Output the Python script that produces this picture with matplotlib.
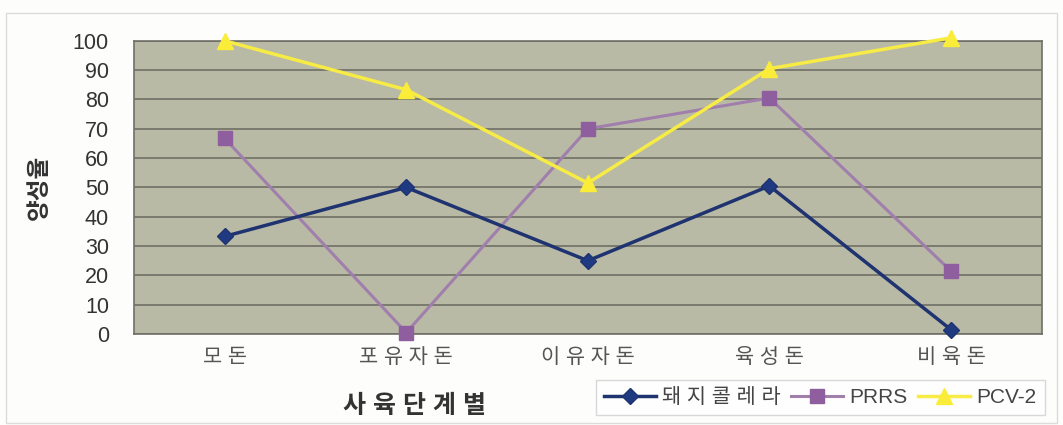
import matplotlib
matplotlib.use('Agg')
import matplotlib.pyplot as plt
from matplotlib.patches import Rectangle

plt.rcParams['font.family'] = ['Liberation Sans', 'Noto Sans CJK KR', 'DejaVu Sans']

# Data
stages = ['모 돈', '포 유 자 돈', '이 유 자 돈', '육 성 돈', '비 육 돈']
cholera = [33.3, 50, 25, 50.5, 1.5]
prrs = [66.7, 0.5, 70, 80.5, 21.5]
pcv2 = [100, 83.3, 51.5, 90.5, 101]
y_ticks = [0, 10, 20, 30, 40, 50, 60, 70, 80, 90, 100]

fig = plt.figure(figsize=(10.63, 4.25), dpi=100)
fig.patch.set_facecolor('#fdfdfb')
fig.patches.append(Rectangle((0.006, 0.005), 0.988, 0.965, transform=fig.transFigure,
                             fill=False, edgecolor='#dcdcdc', linewidth=1))

ax = fig.add_axes([0.126, 0.214, 0.854, 0.69])
ax.set_facecolor('#b9baa6')
x = range(len(stages))

ax.plot(x, cholera, color='#1f3370', linewidth=2.5, marker='D', markersize=8,
        markerfacecolor='#1f3a80', markeredgecolor='#1f3370', label='돼 지 콜 레 라',
        zorder=4, clip_on=False)
ax.plot(x, prrs, color='#a07fac', linewidth=2.2, marker='s', markersize=10,
        markerfacecolor='#8e5e9e', markeredgecolor='#8e5e9e', label='PRRS',
        zorder=3, clip_on=False)
ax.plot(x, pcv2, color='#f7eb45', linewidth=2.5, marker='^', markersize=11,
        markerfacecolor='#fbec3a', markeredgecolor='#fbec3a', label='PCV-2',
        zorder=5, clip_on=False)

ax.set_xlim(-0.5, len(stages) - 0.5)
ax.set_ylim(0, 100)
ax.set_yticks(y_ticks)
ax.set_yticklabels([str(v) for v in y_ticks], fontsize=15.5, color='#333333')
ax.set_xticks(list(x))
ax.set_xticklabels(stages, fontsize=15, color='#555555')
ax.tick_params(axis='y', length=0, pad=18)
ax.tick_params(axis='x', length=0, pad=10)
ax.grid(axis='y', color='#6f6f66', linewidth=1.2)
ax.set_axisbelow(True)
for s in ax.spines.values():
    s.set_color('#707068')
    s.set_linewidth(1.2)

ax.set_ylabel('양성율', fontsize=17, fontweight='bold', color='#333333', labelpad=16)
fig.text(0.39, 0.045, '사 육 단 계 별', fontsize=18, fontweight='bold', color='#333333',
         ha='center', va='center')

leg = fig.legend(loc='lower right', bbox_to_anchor=(0.993, -0.002), ncol=3,
                 fontsize=15, frameon=True, fancybox=False, handlelength=2.5,
                 columnspacing=0.5, handletextpad=0.3, borderpad=0.4)
leg.get_frame().set_edgecolor('#cfcfcf')
leg.get_frame().set_facecolor('white')
for t in leg.get_texts():
    t.set_color('#444444')

plt.savefig('out.png', dpi=100)
